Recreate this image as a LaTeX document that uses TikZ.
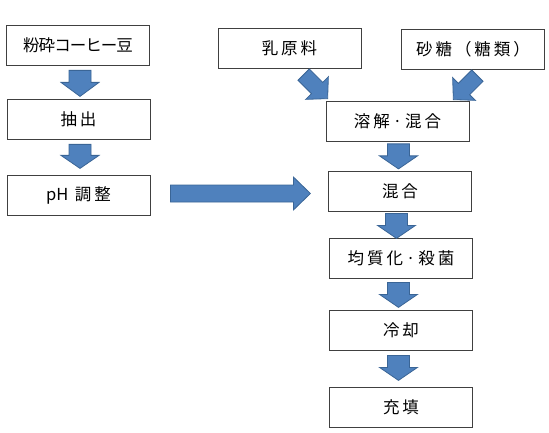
\documentclass[tikz,border=0pt]{standalone}
\usepackage{fontspec}
\newfontfamily\jp[LetterSpace=18]{Noto Sans CJK JP}
\newfontfamily\jpn[LetterSpace=-6]{Noto Sans CJK JP}
\newfontfamily\jpz{Noto Sans CJK JP}
\usetikzlibrary{calc}
\definecolor{arrfill}{HTML}{4F81BD}
\definecolor{arrline}{HTML}{3A6596}
\tikzset{
  proc/.style={draw=black!75, line width=0.8pt, fill=white, minimum width=143pt,
    minimum height=40pt, inner sep=0pt, font=\jp\fontsize{16.5}{18}\selectfont},
  pics/barrow/.style n args={4}{code={
    \draw[fill=arrfill, draw=arrline, line width=0.8pt, line join=miter]
      (0,-#3) -- ({#1-#2},-#3) -- ({#1-#2},-#4) -- (#1,0) -- ({#1-#2},#4)
      -- ({#1-#2},#3) -- (0,#3) -- cycle;
  }},
}
\begin{document}
\begin{tikzpicture}[x=1pt,y=-1pt]
\useasboundingbox (0,0) rectangle (549,433);
% left column
\node[proc, font=\jpn\fontsize{16.5}{18}\selectfont] (a) at (78,45) {粉砕コーヒー豆};
\node[proc] (b) at (78.5,119.5) {抽出};
\node[proc] (c) at (78.5,195) {{\jpz pH} 調整};
% right column
\node[proc] (d) at (289.5,48) {乳原料};
\node[proc] (e) at (473,49) {砂糖（糖類）};
\node[proc] (f) at (397.5,121) {溶解·混合};
\node[proc] (g) at (400,191.5) {混合};
\node[proc] (h) at (401,258) {均質化·殺菌};
\node[proc] (i) at (401,330) {冷却};
\node[proc] (j) at (401,407) {充填};
% block arrows
\pic[rotate=-90] at ($(a.south)+(2,5)$) {barrow={26}{14}{11}{19}};
\pic[rotate=-90] at ($(b.south)+(1.5,4.5)$) {barrow={24}{13}{11}{19}};
\pic at ($(c.east)+(20,-1.5)$) {barrow={140}{17}{8.5}{16.5}};
\pic[rotate=-45] at ($(f.north west)+(-22,-26)$) {barrow={34}{15}{8}{16}};
\pic[rotate=-135] at ($(f.north east)+(8,-25)$) {barrow={34}{15}{8}{16}};
\pic[rotate=-90] at ($(f.south)+(1,2.5)$) {barrow={25}{13}{11}{19}};
\pic[rotate=-90] at ($(g.south)+(-3.5,1.5)$) {barrow={25}{13}{11}{19}};
\pic[rotate=-90] at ($(h.south)+(-2.5,4)$) {barrow={25}{13}{11}{19}};
\pic[rotate=-90] at ($(i.south)+(-2.5,5)$) {barrow={25}{13}{11}{19}};
\end{tikzpicture}
\end{document}
